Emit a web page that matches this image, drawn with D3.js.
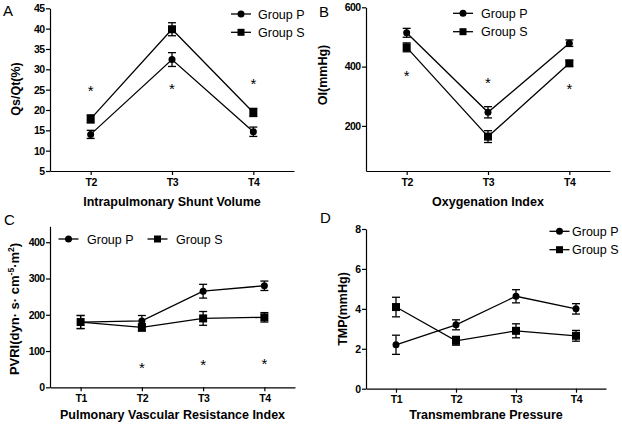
<!DOCTYPE html>
<html><head><meta charset="utf-8">
<script src="https://cdn.jsdelivr.net/npm/d3@7"></script>
<style>body{margin:0;background:#fff}svg{display:block}text{font-family:"Liberation Sans",Arial,sans-serif;fill:#000}</style>
</head><body>
<script>
// ---------- data ----------
const catsA = ["T2","T3","T4"];
const pA = [14.0, 32.4, 14.65], pAerr = [1.0, 1.7, 1.15];
const sA = [17.8, 39.85, 19.4], sAerr = [1.0, 1.6, 1.0];
const starA = [25.5, 25.9, 27.3];
const ticksA = [5,10,15,20,25,30,35,40,45];

const catsB = ["T2","T3","T4"];
const pB = [514, 246, 479], pBerr = [15, 19, 11];
const sB = [465, 164, 411], sBerr = [15, 20, 10];
const starB = [380, 355, 335];
const ticksB = [200,400,600];

const catsC = ["T1","T2","T3","T4"];
const pC = [180, 183, 265, 280], pCerr = [18, 15, 19, 13];
const sC = [180, 165, 190, 193], sCerr = [18, 10, 19, 13];
const starC = [null, 62, 72, 73];
const ticksC = [0,100,200,300,400];

const catsD = ["T1","T2","T3","T4"];
const pD = [2.2, 3.2, 4.63, 4.0], pDerr = [0.48, 0.25, 0.33, 0.26];
const sD = [4.09, 2.4, 2.9, 2.65], sDerr = [0.49, 0.22, 0.35, 0.27];
const ticksD = [0,2,4,6,8];

const seriesNames = ["Group P","Group S"];

// ---------- drawing ----------
const svg = d3.select("body").append("svg").attr("width",622).attr("height",426);

function panel(o){
  const g = svg.append("g");
  const x = d3.scalePoint().domain(o.cats).range([o.x0,o.x1]).padding(0.5);
  const y = d3.scaleLinear().domain(o.ydom).range([o.y0,o.y1]);
  // axes
  const ya = g.append("g").attr("transform",`translate(${o.x0},0)`)
    .call(d3.axisLeft(y).tickValues(o.ticks).tickSize(4).tickPadding(1.5).tickSizeOuter(0));
  ya.selectAll("text").style("font-size","10.5px").style("font-weight","bold").attr("letter-spacing","-0.6");
  const xa = g.append("g").attr("transform",`translate(0,${o.y0})`)
    .call(d3.axisBottom(x).tickSize(4).tickPadding(o.xpad).tickSizeOuter(0));
  xa.selectAll("text").style("font-size","10.5px").style("font-weight","bold").attr("letter-spacing","-0.4");
  [ya,xa].forEach(a=>{a.select(".domain").attr("stroke","#000").attr("stroke-width",1.2);
    a.selectAll(".tick line").attr("stroke","#000").attr("stroke-width",1.2);});
  // titles
  g.append("text").attr("x",(o.x0+o.x1)/2).attr("y",o.xtY).attr("text-anchor","middle")
    .style("font-size","12.5px").style("font-weight","bold").text(o.xtitle);
  const yt = g.append("text").attr("transform",`translate(${o.ytX},${o.ytY}) rotate(-90)`)
    .attr("text-anchor","middle").style("font-size",o.ytSize||"12.5px").style("font-weight","bold");
  o.ytitle.forEach(p=>{const t=yt.append("tspan").text(p.t); if(p.sup){t.style("font-size","8.5px").attr("dy",-5);} else if(p.after){t.attr("dy",5);} });
  g.append("text").attr("x",o.lx).attr("y",o.ly).style("font-size","15px").text(o.letter);
  // series
  const line = d3.line().x((d,i)=>x(o.cats[i])).y(d=>y(d));
  const ser = [{v:o.p,e:o.pe,shape:"c"},{v:o.s,e:o.se,shape:"s"}];
  ser.forEach(s=>{
    g.append("path").datum(s.v).attr("d",line).attr("fill","none").attr("stroke","#000").attr("stroke-width",1.3);
    s.v.forEach((v,i)=>{
      const cx=x(o.cats[i]), lo=y(v-s.e[i]), hi=y(v+s.e[i]);
      g.append("line").attr("x1",cx).attr("x2",cx).attr("y1",lo).attr("y2",hi).attr("stroke","#000").attr("stroke-width",1.3);
      [lo,hi].forEach(yy=>g.append("line").attr("x1",cx-4).attr("x2",cx+4).attr("y1",yy).attr("y2",yy).attr("stroke","#000").attr("stroke-width",1.3));
      if(s.shape==="c") g.append("circle").attr("cx",cx).attr("cy",y(v)).attr("r",3.5);
      else g.append("rect").attr("x",cx-4).attr("y",y(v)-4).attr("width",8).attr("height",8);
    });
  });
  if(o.stars) o.stars.forEach((v,i)=>{ if(v==null) return;
    g.append("text").attr("x",x(o.cats[i])).attr("y",y(v)+8.5).attr("text-anchor","middle").style("font-size","15px").text("*");});
  // legend
  o.leg.forEach((L,k)=>{
    g.append("line").attr("x1",L.mx-10).attr("x2",L.mx+10).attr("y1",L.y).attr("y2",L.y).attr("stroke","#000").attr("stroke-width",1.3);
    if(k===0) g.append("circle").attr("cx",L.mx).attr("cy",L.y).attr("r",3.5);
    else g.append("rect").attr("x",L.mx-3.5).attr("y",L.y-3.5).attr("width",7).attr("height",7);
    g.append("text").attr("x",L.tx).attr("y",L.y+4.5).style("font-size","12.5px").text(seriesNames[k]);
  });
}

panel({cats:catsA,p:pA,pe:pAerr,s:sA,se:sAerr,stars:starA,ticks:ticksA,ydom:[5,45],
  x0:50,x1:294,y0:171,y1:8.3,xpad:4,xtitle:"Intrapulmonary Shunt Volume",xtY:206,
  ytitle:[{t:"Qs/Qt(%)"}],ytX:20,ytY:89,letter:"A",lx:3,ly:16,
  leg:[{mx:241,tx:258,y:14},{mx:241,tx:258,y:32.3}]});
panel({cats:catsB,p:pB,pe:pBerr,s:sB,se:sBerr,stars:starB,ticks:ticksB,ydom:[48,600],
  x0:366,x1:610,y0:171,y1:7.3,xpad:4,xtitle:"Oxygenation Index",xtY:206,
  ytitle:[{t:"OI(mmHg)"}],ytX:327,ytY:75,letter:"B",lx:319,ly:17,
  leg:[{mx:463,tx:481,y:13.3},{mx:463,tx:481,y:31.7}]});
panel({cats:catsC,p:pC,pe:pCerr,s:sC,se:sCerr,stars:starC,ticks:ticksC,ydom:[0,444],
  x0:50,x1:295,y0:387.3,y1:226.3,xpad:3,xtitle:"Pulmonary Vascular Resistance Index",xtY:419,
  ytitle:[{t:"PVRI(dyn· s· cm"},{t:"-5",sup:true},{t:"·m",after:true},{t:"2",sup:true},{t:")",after:true}],
  ytX:19,ytY:309,ytSize:"13px",letter:"C",lx:4,ly:225,
  leg:[{mx:68.5,tx:87,y:239},{mx:157.5,tx:176,y:239}]});
panel({cats:catsD,p:pD,pe:pDerr,s:sD,se:sDerr,stars:null,ticks:ticksD,ydom:[0,8],
  x0:366,x1:606,y0:388.7,y1:229,xpad:3,xtitle:"Transmembrane Pressure",xtY:419,
  ytitle:[{t:"TMP(mmHg)"}],ytX:347,ytY:309,letter:"D",lx:320,ly:223,
  leg:[{mx:559.5,tx:572,y:231.3},{mx:559.5,tx:572,y:249.7}]});
</script>
</body></html>
